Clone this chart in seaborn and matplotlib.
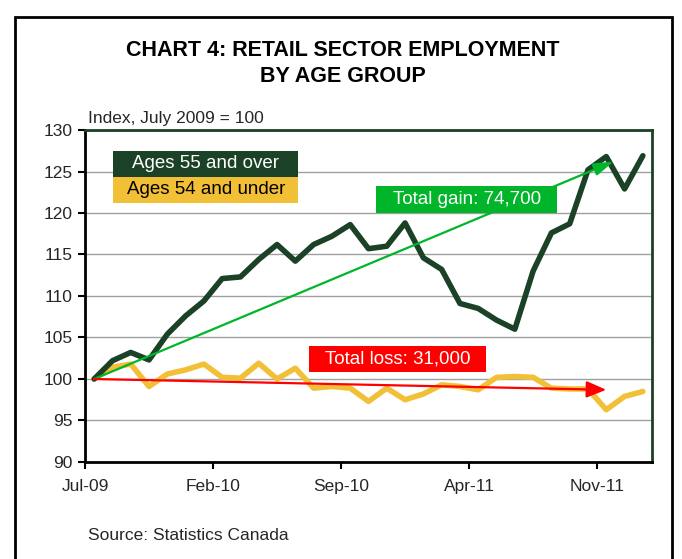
import numpy as np
import pandas as pd
import seaborn as sns
import matplotlib.pyplot as plt
from matplotlib.patches import Rectangle

# monthly index, July 2009 = 100 (Jul-09 .. Jan-12)
months = pd.date_range("2009-07-01", "2012-01-01", freq="MS")
ages_55_over = [100.0, 102.2, 103.2, 102.3, 105.4, 107.6, 109.4, 112.1, 112.3, 114.4,
                116.2, 114.2, 116.2, 117.2, 118.6, 115.7, 116.0, 118.8, 114.6, 113.2,
                109.1, 108.5, 107.1, 106.0, 113.0, 117.6, 118.7, 125.2, 126.8, 122.9,
                126.9]
ages_54_under = [100.0, 101.4, 101.8, 99.1, 100.6, 101.1, 101.8, 100.2, 100.1, 101.9,
                 100.0, 101.3, 98.9, 99.1, 98.9, 97.3, 98.9, 97.5, 98.2, 99.3,
                 99.1, 98.7, 100.2, 100.3, 100.2, 98.9, 98.8, 98.8, 96.3, 97.9,
                 98.5]
tick_labels = ["Jul-09", "Feb-10", "Sep-10", "Apr-11", "Nov-11"]
gain_label = "Total gain: 74,700"
loss_label = "Total loss: 31,000"

dark_green = "#1b4126"
yellow = "#f2c037"
bright_green = "#00b52a"
red = "#ff0000"

df = pd.DataFrame({
    "pos": np.arange(len(months)),
    "Ages 55 and over": ages_55_over,
    "Ages 54 and under": ages_54_under,
})
long = df.melt(id_vars="pos", var_name="group", value_name="index")

sns.set_style("white")
plt.rcParams["font.family"] = ["Liberation Sans", "DejaVu Sans"]

fig = plt.figure(figsize=(6.82, 5.59), dpi=100)
ax = fig.add_axes([85 / 682, 97 / 559, 567 / 682, 332 / 559])

sns.lineplot(data=long, x="pos", y="index", hue="group",
             palette={"Ages 55 and over": dark_green, "Ages 54 and under": yellow},
             hue_order=["Ages 54 and under", "Ages 55 and over"],
             linewidth=4, legend=False, ax=ax, zorder=3)

n = len(months)
ax.set_xlim(-0.5, n - 0.5)
ax.set_ylim(90, 130)
ax.set_yticks(np.arange(90, 131, 5))
ax.set_xticks(np.arange(-0.5, n - 1, 7))
ax.set_xticklabels(tick_labels)
ax.set_xlabel("")
ax.set_ylabel("")
ax.yaxis.grid(True, color="#a0a0a0", linewidth=1.0)
ax.set_axisbelow(True)
ax.tick_params(axis="both", which="both", direction="out", length=5, width=1.5,
               color="black", labelsize=12.5, pad=4, left=True, bottom=True)
ax.tick_params(axis="x", pad=7)
for side in ["left", "bottom"]:
    ax.spines[side].set_color("black")
    ax.spines[side].set_linewidth(2)
for side in ["top", "right"]:
    ax.spines[side].set_color(dark_green)
    ax.spines[side].set_linewidth(2)

# trend arrows
last = n - 1
ax.annotate("", xy=(last - 1.6, 126.2), xytext=(0, ages_55_over[0]),
            arrowprops=dict(arrowstyle="-|>,head_length=1.2,head_width=0.38",
                            color=bright_green, lw=1.6, mutation_scale=10,
                            shrinkA=0, shrinkB=0), zorder=4)
ax.annotate("", xy=(last - 2.0, 98.7), xytext=(0, ages_54_under[0]),
            arrowprops=dict(arrowstyle="-|>,head_length=1.2,head_width=0.5",
                            color=red, lw=1.6, mutation_scale=10,
                            shrinkA=0, shrinkB=0), zorder=4)

# boxed labels
def box_label(x0, y0, w, h, text, face, tcolor):
    ax.add_patch(Rectangle((x0, y0), w, h, transform=ax.transAxes,
                           facecolor=face, edgecolor="none", zorder=5))
    ax.text(x0 + w / 2, y0 + h / 2, text, transform=ax.transAxes,
            ha="center", va="center", color=tcolor, fontsize=13.5, zorder=6)

box_label(0.050, 0.859, 0.326, 0.078, "Ages 55 and over", dark_green, "white")
box_label(0.050, 0.781, 0.326, 0.078, "Ages 54 and under", yellow, "black")
box_label(0.514, 0.751, 0.318, 0.080, gain_label, bright_green, "white")
box_label(0.395, 0.271, 0.313, 0.078, loss_label, red, "white")

# outer frame
fig.patches.append(Rectangle((15 / 682, -0.05), 657 / 682, 1.05 - 17 / 559,
                             transform=fig.transFigure, fill=False,
                             edgecolor="black", linewidth=2))

fig.text(343 / 682, 1 - 50 / 559, "CHART 4: RETAIL SECTOR EMPLOYMENT",
         ha="center", va="center", fontsize=15.5, fontweight="bold", color="black")
fig.text(343 / 682, 1 - 77 / 559, "BY AGE GROUP",
         ha="center", va="center", fontsize=15.5, fontweight="bold", color="black")
fig.text(88 / 682, 1 - 118 / 559, "Index, July 2009 = 100",
         ha="left", va="center", fontsize=12.5)
fig.text(88 / 682, 1 - 536 / 559, "Source: Statistics Canada",
         ha="left", va="center", fontsize=12.5)

fig.savefig("out.png", dpi=100)
